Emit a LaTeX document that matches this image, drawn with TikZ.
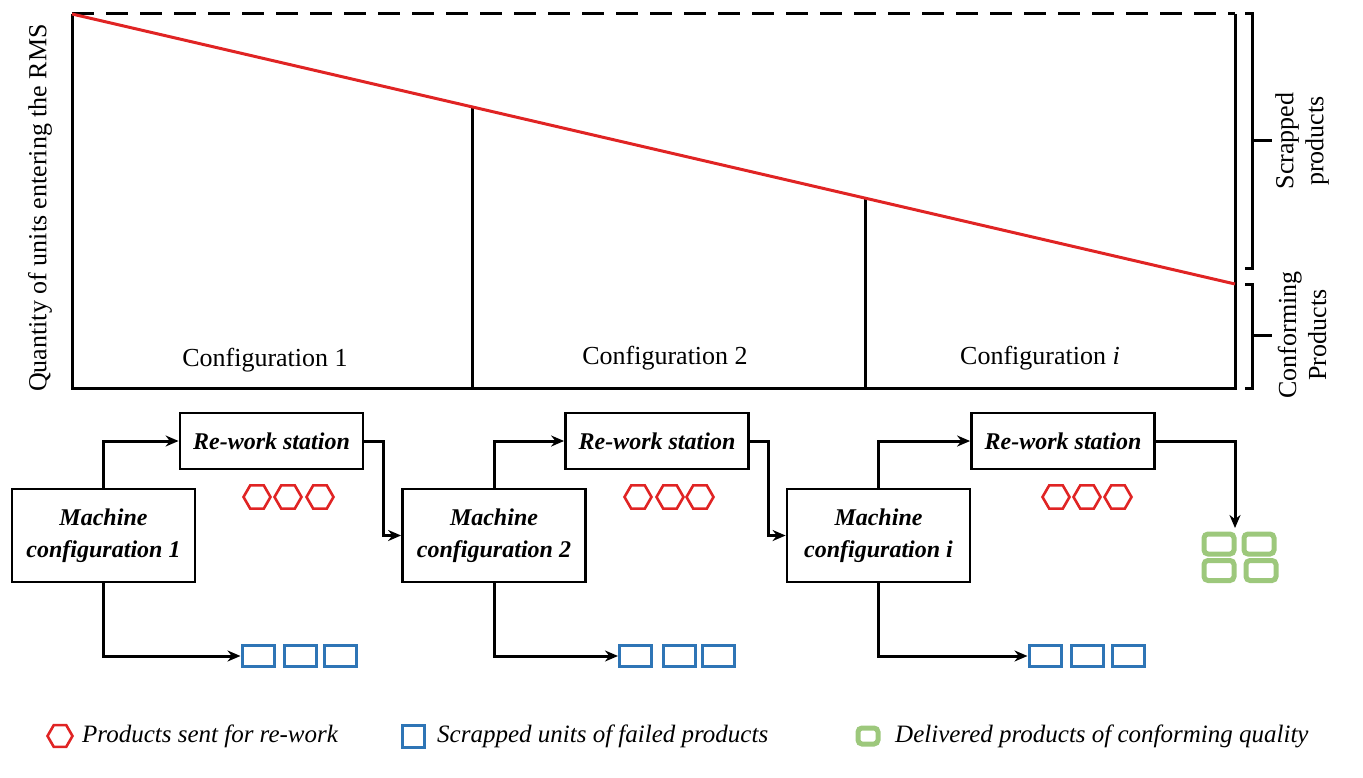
\documentclass[tikz,border=0pt]{standalone}
\usepackage{fontspec}
\setmainfont{LiberationSerif}[Extension=.ttf,UprightFont=*-Regular,BoldFont=*-Bold,ItalicFont=*-Italic,BoldItalicFont=*-BoldItalic]
\usetikzlibrary{shapes.geometric,arrows.meta}
\definecolor{hexred}{HTML}{E02424}
\definecolor{sqblue}{HTML}{2E75B6}
\definecolor{okgreen}{HTML}{9DC87C}
\begin{document}
\begin{tikzpicture}[x=1pt,y=-1pt,
  axis/.style={line width=3pt},
  arr/.style={line width=3pt,-{Stealth[length=13pt,width=11pt]}},
  mbox/.style={draw,line width=2.8pt,minimum width=183pt,minimum height=93pt,inner sep=0pt,align=center,font=\fontsize{24}{32}\selectfont\bfseries\itshape},
  rbox/.style={draw,line width=2.8pt,minimum width=183pt,minimum height=56pt,inner sep=0pt,font=\fontsize{24}{28}\selectfont\bfseries\itshape},
  hexa/.style={draw=hexred,regular polygon,regular polygon sides=6,minimum size=27pt,inner sep=0pt,line width=2.6pt},
  sq/.style={draw=sqblue,line width=3pt,minimum width=32pt,minimum height=21pt,inner sep=0pt},
  gsq/.style={draw=okgreen,line width=5pt,rounded corners=4pt,minimum width=30pt,minimum height=20pt,inner sep=0pt},
  lbl/.style={font=\fontsize{26}{30}\selectfont},
  leg/.style={font=\fontsize{25}{30}\selectfont\itshape,anchor=west,inner sep=0pt}
]
\useasboundingbox (0,0) rectangle (1363,778);
% ---- chart ----
\coordinate (tl) at (72,14);
\coordinate (tr) at (1235,14);
\coordinate (bl) at (72,388);
\coordinate (br) at (1235,388);
\coordinate (rend) at (1235,284);
\coordinate (d1) at (472,107);
\coordinate (d2) at (865,198);
\draw[axis,dash pattern=on 22pt off 12pt] (tl) -- (tr);
\draw[axis] (tl) -- (bl) -- (br) -- (tr);
\draw[axis] (d1) -- (d1 |- bl);
\draw[axis] (d2) -- (d2 |- bl);
\draw[line width=3pt,hexred] (tl) -- (rend);
\node[lbl] (c1) at (265,360) {Configuration 1};
\node[lbl] (c2) at (665,358) {Configuration 2};
\node[lbl] (c3) at (1040,358) {Configuration \textit{i}};
\node[lbl,rotate=90] (ylab) at (40,208) {Quantity of units entering the RMS};
% braces
\draw[axis] (1245,14) -- (1252,14) -- (1252,268) -- (1245,268);
\draw[axis] (1252,141) -- (1272,141);
\draw[axis] (1245,284) -- (1252,284) -- (1252,388) -- (1245,388);
\draw[axis] (1252,335) -- (1272,335);
\node[lbl,rotate=90,align=center] (scr) at (1302,141) {Scrapped\\products};
\node[lbl,rotate=90,align=center] (conf) at (1302,335) {Conforming\\Products};
% ---- process ----
\node[mbox] (m1) at (103.5,535.5) {Machine\\configuration 1};
\node[mbox] (m2) at (494,535.5) {Machine\\configuration 2};
\node[mbox] (m3) at (878.5,535.5) {Machine\\configuration i};
\node[rbox] (r1) at (271.5,441) {Re-work station};
\node[rbox] (r2) at (657,441) {Re-work station};
\node[rbox] (r3) at (1063,441) {Re-work station};
% hexagons
\foreach \n/\x in {h1a/257,h1b/288,h1c/320,h2a/638,h2b/670,h2c/700,h3a/1056,h3b/1087,h3c/1118}
  \node[hexa] (\n) at (\x,497) {};
% blue squares
\foreach \n/\x in {s1a/258,s1b/300,s1c/340.5,s2a/635.5,s2b/679,s2c/718.5,s3a/1045,s3b/1087.5,s3c/1128}
  \node[sq] (\n) at (\x,656) {};
% green
\node[gsq] (g1) at (1219,544) {};
\node[gsq] (g2) at (1259,544) {};
\node[gsq] (g3) at (1219,570.5) {};
\node[gsq] (g4) at (1261,570.5) {};
\coordinate (gtop) at (1235,528);
% connectors
\draw[arr] (m1.north) |- (r1.west);
\draw[arr] (m2.north) |- (r2.west);
\draw[arr] (m3.north) |- (r3.west);
\draw[arr] (r1.east) -- ++(19,0) |- (m2.west);
\draw[arr] (r2.east) -- ++(19,0) |- (m3.west);
\draw[arr] (r3.east) -| (gtop);
\draw[arr] (m1.south) |- (s1a.west);
\draw[arr] (m2.south) |- (s2a.west);
\draw[arr] (m3.south) |- (s3a.west);
% ---- legend ----
\node[hexa,minimum size=25pt] (lh) at (60,736) {};
\node[leg] (lht) at (82,736) {Products sent for re-work};
\node[sq,minimum width=22pt,minimum height=22pt] (ls) at (413,736) {};
\node[leg] (lst) at (437,736) {Scrapped units of failed products};
\node[gsq,minimum width=20pt,minimum height=16pt] (lg) at (868,736) {};
\node[leg] (lgt) at (895,736) {Delivered products of conforming quality};
\end{tikzpicture}
\end{document}
